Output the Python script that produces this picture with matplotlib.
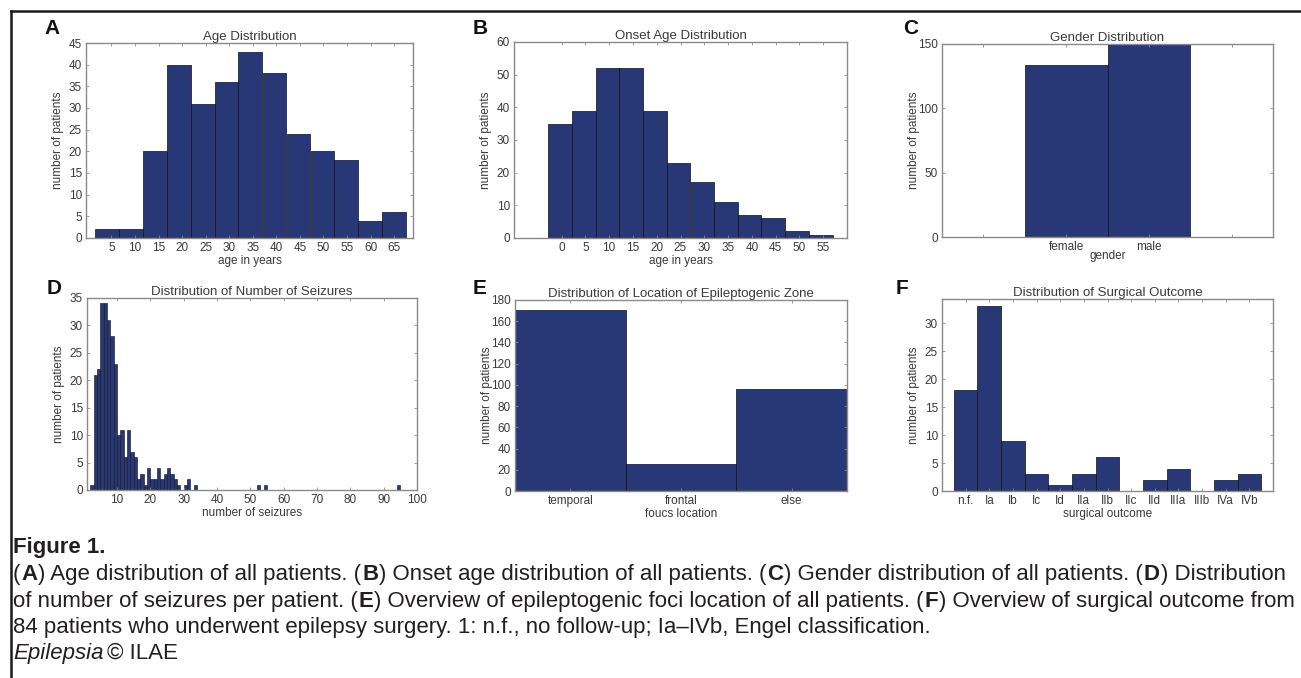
import matplotlib
matplotlib.use("Agg")
import numpy as np
import matplotlib.pyplot as plt
from matplotlib.lines import Line2D

W, H = 1301, 678

# A - age distribution (histogram bin centres and counts)
age_centers = [4.1, 9.2, 14.3, 19.3, 24.4, 29.5, 34.5, 39.6, 44.7, 49.8, 54.8, 59.9, 65.0]
age_counts = [2, 2, 20, 40, 31, 36, 43, 38, 24, 20, 18, 4, 6]

# B - onset age distribution
onset_centers = [-0.3, 4.7, 9.7, 14.6, 19.6, 24.6, 29.6, 34.6, 39.5, 44.5, 49.5, 54.5]
onset_counts = [35, 39, 52, 52, 39, 23, 17, 11, 7, 6, 2, 1]

# C - gender
genders = ["female", "male"]
gender_counts = [134, 150]

# D - number of seizures (left bin edges, unit-width bins)
seizure_bins = list(range(2, 34)) + [52, 54, 94]
seizure_counts = [1, 21, 22, 34, 34, 31, 28, 23, 10, 11, 6, 11, 7, 6, 2, 3,
                  1, 4, 2, 2, 4, 2, 3, 4, 3, 2, 1, 0, 1, 2, 0, 1,
                  1, 1, 1]

# E - focus location
locations = ["temporal", "frontal", "else"]
location_counts = [171, 25, 96]

# F - surgical outcome
outcomes = ["n.f.", "Ia", "Ib", "Ic", "Id", "IIa", "IIb", "IIc", "IId",
            "IIIa", "IIIb", "IVa", "IVb"]
outcome_counts = [18, 33, 9, 3, 1, 3, 6, 0, 2, 4, 0, 2, 3]

bar_color = "#283775"
text_color = "#3a3a3a"
spine_color = "#8a8a8a"

plt.rcParams["font.family"] = ["Liberation Sans", "DejaVu Sans"]
plt.rcParams["font.size"] = 8.5

fig = plt.figure(figsize=(W / 100, H / 100), dpi=100)


def make_axes(left, right, top, bottom):
    ax = fig.add_axes([left / W, 1 - bottom / H, (right - left) / W, (bottom - top) / H])
    for s in ax.spines.values():
        s.set_color(spine_color)
        s.set_linewidth(1.0)
    ax.tick_params(direction="in", top=True, right=True, length=2.5, width=0.6,
                   color=spine_color, labelcolor=text_color, labelsize=8.5, pad=3)
    ax.yaxis.set_label_coords(-22 / (right - left), 0.5)
    ax.xaxis.set_label_coords(0.5, -17 / (bottom - top))
    return ax


def decorate(ax, title, xlabel):
    ax.set_title(title, fontsize=9.5, color=text_color, pad=2)
    ax.set_xlabel(xlabel, fontsize=8.5, color=text_color)
    ax.set_ylabel("number of patients", fontsize=8.5, color=text_color)


# A
ax = make_axes(86, 413, 43, 238)
ax.bar(age_centers, age_counts, width=5.07, color=bar_color, edgecolor="#111111", linewidth=0.5)
ax.set_xlim(-0.4, 69)
ax.set_ylim(0, 45)
ax.set_xticks(range(5, 70, 5))
ax.set_yticks(range(0, 50, 5))
decorate(ax, "Age Distribution", "age in years")

# B
ax = make_axes(514, 847, 42, 238)
ax.bar(onset_centers, onset_counts, width=4.98, color=bar_color, edgecolor="#111111", linewidth=0.5)
ax.set_xlim(-10, 60)
ax.set_ylim(0, 60)
ax.set_xticks(range(0, 60, 5))
ax.set_yticks(range(0, 70, 10))
decorate(ax, "Onset Age Distribution", "age in years")

# C
ax = make_axes(942, 1273, 44, 237)
ax.bar([1, 2], gender_counts, width=1.0, color=bar_color, edgecolor="#111111", linewidth=0.5)
ax.set_xlim(-0.5, 3.5)
ax.set_ylim(0, 150)
ax.set_xticks([0, 1, 2, 3])
ax.set_xticklabels([""] + genders + [""])
ax.set_yticks([0, 50, 100, 150])
ax.xaxis.set_label_coords(0.5, -13 / 193)
decorate(ax, "Gender Distribution", "gender")

# D
ax = make_axes(87, 417, 298, 490)
ax.bar(seizure_bins, seizure_counts, width=1.0, align="edge", color=bar_color,
       edgecolor="#111111", linewidth=0.4)
ax.set_xlim(1, 100)
ax.set_ylim(0, 35)
ax.set_xticks(range(10, 110, 10))
ax.set_yticks(range(0, 40, 5))
decorate(ax, "Distribution of Number of Seizures", "number of seizures")

# E
ax = make_axes(515, 847, 300, 491)
ax.bar([1, 2, 3], location_counts, width=1.0, color=bar_color, edgecolor="#111111", linewidth=0.5)
ax.set_xlim(0.5, 3.5)
ax.set_ylim(0, 180)
ax.set_xticks([1, 2, 3])
ax.set_xticklabels(locations)
ax.set_yticks(range(0, 200, 20))
decorate(ax, "Distribution of Location of Epileptogenic Zone", "foucs location")

# F
ax = make_axes(942, 1273, 299, 491)
xs = np.arange(1, len(outcomes) + 1)
ax.bar(xs, outcome_counts, width=1.0, color=bar_color, edgecolor="#111111", linewidth=0.5)
ax.set_xlim(0, 14)
ax.set_ylim(0, 34.3)
ax.set_xticks(xs)
ax.set_xticklabels(outcomes)
ax.set_yticks(range(0, 35, 5))
decorate(ax, "Distribution of Surgical Outcome", "surgical outcome")

# panel letters
for letter, (x, y) in zip("ABCDEF", [(52, 29), (480, 29), (911, 29),
                                       (54, 288), (480, 289), (902, 289)]):
    fig.text(x / W, 1 - y / H, letter, fontsize=15, fontweight="bold",
             color="#111111", ha="center", va="center")

# frame lines
fig.add_artist(Line2D([10.5 / W, 1], [1 - 10.7 / H, 1 - 10.7 / H], color="#1a1a1a", lw=1.8))
fig.add_artist(Line2D([10.5 / W, 10.5 / W], [0, 1 - 10.7 / H], color="#1a1a1a", lw=1.8))

# caption, drawn piece by piece so the panel letters can be bold
renderer = fig.canvas.get_renderer()
cap_color = "#231f20"
cap_family = ["Liberation Sans Narrow", "Liberation Sans", "DejaVu Sans"]

line1 = [("(", "normal", "normal"), ("A", "bold", "normal"),
         (") Age distribution of all patients. (", "normal", "normal"), ("B", "bold", "normal"),
         (") Onset age distribution of all patients. (", "normal", "normal"), ("C", "bold", "normal"),
         (") Gender distribution of all patients. (", "normal", "normal"), ("D", "bold", "normal"),
         (") Distribution", "normal", "normal")]
line2 = [("of number of seizures per patient. (", "normal", "normal"), ("E", "bold", "normal"),
         (") Overview of epileptogenic foci location of all patients. (", "normal", "normal"),
         ("F", "bold", "normal"), (") Overview of surgical outcome from", "normal", "normal")]
line3 = [("84 patients who underwent epilepsy surgery. 1: n.f., no follow-up; Ia\u2013IVb, Engel classification.",
          "normal", "normal")]


def put_segments(x0, base, segments, size, draw=True):
    x = x0
    texts = []
    for s, weight, style in segments:
        t = fig.text(x / W, 1 - base / H, s, fontsize=size, fontweight=weight,
                     fontstyle=style, family=cap_family, color=cap_color,
                     ha="left", va="baseline")
        bb = t.get_window_extent(renderer)
        x = bb.x1 + 0.8
        texts.append(t)
    if not draw:
        for t in texts:
            t.remove()
    return x


x_start = 13
w10 = put_segments(x_start, 600, line1, 10, draw=False) - x_start
cap_size = 10 * (1293 - x_start) / w10

fig.text(x_start / W, 1 - 553 / H, "Figure 1.", fontsize=cap_size, fontweight="bold",
         family=cap_family, color=cap_color, ha="left", va="baseline")
put_segments(x_start, 580, line1, cap_size)
put_segments(x_start, 607, line2, cap_size)
put_segments(x_start, 633, line3, cap_size)
xe = put_segments(x_start, 659, [("Epilepsia", "normal", "italic")], cap_size)
put_segments(xe + 3, 659, [("\u00a9 ILAE", "normal", "normal")], cap_size)

fig.savefig("out.png", dpi=100)
